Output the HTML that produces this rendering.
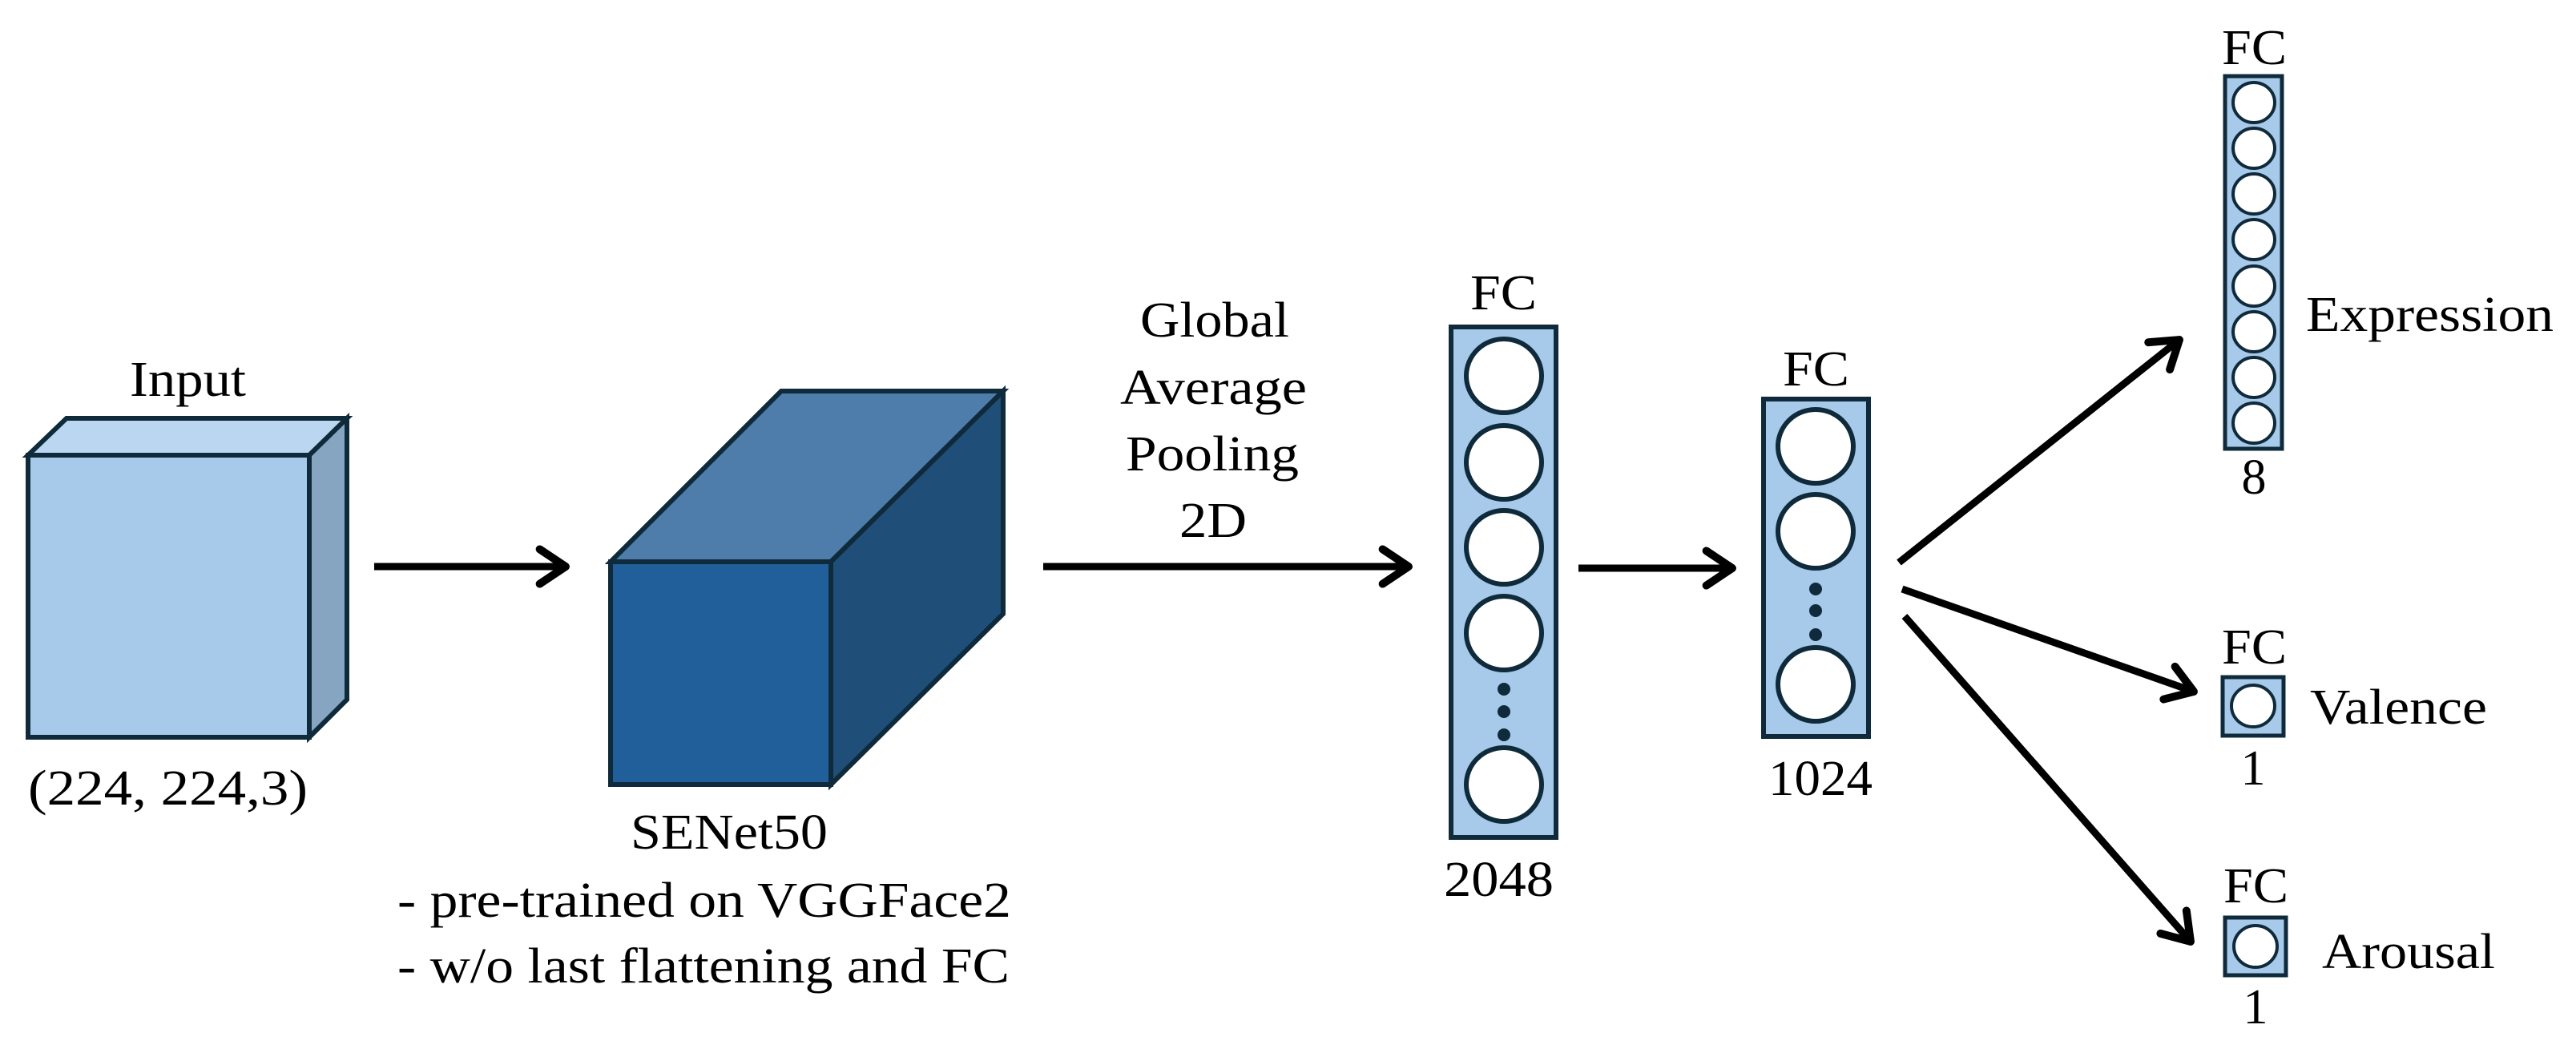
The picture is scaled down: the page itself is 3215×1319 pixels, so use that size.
<!DOCTYPE html>
<html><head><meta charset="utf-8"><style>html,body{margin:0;padding:0;background:#fff}svg{display:block}</style></head>
<body>
<svg width="3215" height="1319" viewBox="0 0 3215 1319" xmlns="http://www.w3.org/2000/svg" font-family="Liberation Serif, serif" font-size="62" fill="#000">
<defs>
<marker id="ah" markerWidth="6" markerHeight="6" refX="4.6" refY="3" orient="auto" markerUnits="strokeWidth">
<path d="M1,0.6 L4.6,3 L1,5.4" fill="none" stroke="#000" stroke-width="1.1" stroke-linecap="round" stroke-linejoin="round"/>
</marker>
</defs>
<g stroke="#0f2a3a" stroke-width="6" stroke-linejoin="miter">
<!-- Input cube -->
<polygon points="35,568 83,522 433,522 386,568" fill="#bad6f0"/>
<polygon points="386,568 433,522 433,873 386,920" fill="#86a5c0"/>
<rect x="35" y="568" width="351" height="352" fill="#a7c9ea"/>
<!-- SENet cube -->
<polygon points="762,701 975,488 1252,488 1037,701" fill="#4e7dab"/>
<polygon points="1037,701 1252,488 1252,766 1037,979" fill="#1f4e79"/>
<rect x="762" y="701" width="275" height="278" fill="#215f9a"/>
<!-- FC1 -->
<rect x="1811" y="408" width="131" height="637" fill="#a7c9ea"/>
<g fill="#fff">
<ellipse cx="1877" cy="469" rx="47" ry="46"/>
<ellipse cx="1877" cy="577" rx="47" ry="46"/>
<ellipse cx="1877" cy="683" rx="47" ry="46"/>
<ellipse cx="1877" cy="790" rx="47" ry="46"/>
<ellipse cx="1877" cy="979" rx="47" ry="46"/>
</g>
<!-- FC2 -->
<rect x="2201" y="498" width="131" height="421" fill="#a7c9ea"/>
<g fill="#fff">
<ellipse cx="2266" cy="557" rx="47" ry="46"/>
<ellipse cx="2266" cy="663" rx="47" ry="46"/>
<ellipse cx="2266" cy="854" rx="47" ry="46"/>
</g>
<!-- Expression -->
<rect x="2777" y="95" width="71" height="465" fill="#a7c9ea" stroke-width="5"/>
<g fill="#fff" stroke-width="4">
<ellipse cx="2813" cy="128" rx="26" ry="25"/>
<ellipse cx="2813" cy="185" rx="26" ry="25"/>
<ellipse cx="2813" cy="242" rx="26" ry="25"/>
<ellipse cx="2813" cy="299" rx="26" ry="25"/>
<ellipse cx="2813" cy="357" rx="26" ry="25"/>
<ellipse cx="2813" cy="414" rx="26" ry="25"/>
<ellipse cx="2813" cy="471" rx="26" ry="25"/>
<ellipse cx="2813" cy="528" rx="26" ry="25"/>
</g>
<!-- Valence -->
<rect x="2774" y="845" width="76" height="73" fill="#a7c9ea" stroke-width="5"/>
<ellipse cx="2812" cy="881" rx="27" ry="26" fill="#fff" stroke-width="4"/>
<!-- Arousal -->
<rect x="2777" y="1145" width="76" height="72" fill="#a7c9ea" stroke-width="5"/>
<ellipse cx="2815" cy="1181" rx="27" ry="26" fill="#fff" stroke-width="4"/>
</g>
<g fill="#0f2a3a">
<circle cx="1877" cy="860" r="8"/><circle cx="1877" cy="888" r="8"/><circle cx="1877" cy="917" r="8"/>
<circle cx="2266" cy="735" r="8"/><circle cx="2266" cy="762" r="8"/><circle cx="2266" cy="792" r="8"/>
</g>
<!-- arrows -->
<g stroke="#000" stroke-width="9" fill="none" marker-end="url(#ah)">
<line x1="467" y1="707" x2="706" y2="707"/>
<line x1="1302" y1="707" x2="1758" y2="707"/>
<line x1="1970" y1="709" x2="2162" y2="709"/>
<line x1="2370" y1="702" x2="2720" y2="424"/>
<line x1="2374" y1="735" x2="2738" y2="863"/>
<line x1="2377" y1="769" x2="2734" y2="1175"/>
</g>
<!-- labels -->
<text x="162" y="494" textLength="145" lengthAdjust="spacingAndGlyphs">Input</text>
<text x="35" y="1004" textLength="349" lengthAdjust="spacingAndGlyphs">(224, 224,3)</text>
<text x="787" y="1059" textLength="246" lengthAdjust="spacingAndGlyphs">SENet50</text>
<text x="496" y="1144" textLength="766" lengthAdjust="spacingAndGlyphs">- pre-trained on VGGFace2</text>
<text x="496" y="1226" textLength="764" lengthAdjust="spacingAndGlyphs">- w/o last flattening and FC</text>
<text x="1423" y="420" textLength="186" lengthAdjust="spacingAndGlyphs">Global</text>
<text x="1398" y="504" textLength="233" lengthAdjust="spacingAndGlyphs">Average</text>
<text x="1405" y="587" textLength="216" lengthAdjust="spacingAndGlyphs">Pooling</text>
<text x="1472" y="670" textLength="84" lengthAdjust="spacingAndGlyphs">2D</text>
<text x="1835" y="386" textLength="83" lengthAdjust="spacingAndGlyphs">FC</text>
<text x="1802" y="1118" textLength="137" lengthAdjust="spacingAndGlyphs">2048</text>
<text x="2225" y="481" textLength="83" lengthAdjust="spacingAndGlyphs">FC</text>
<text x="2207" y="992" textLength="130" lengthAdjust="spacingAndGlyphs">1024</text>
<text x="2773" y="80" textLength="81" lengthAdjust="spacingAndGlyphs">FC</text>
<text x="2813" y="616" text-anchor="middle">8</text>
<text x="2878" y="413" textLength="309" lengthAdjust="spacingAndGlyphs">Expression</text>
<text x="2773" y="828" textLength="81" lengthAdjust="spacingAndGlyphs">FC</text>
<text x="2812" y="979" text-anchor="middle">1</text>
<text x="2883" y="903" textLength="221" lengthAdjust="spacingAndGlyphs">Valence</text>
<text x="2775" y="1126" textLength="81" lengthAdjust="spacingAndGlyphs">FC</text>
<text x="2815" y="1277" text-anchor="middle">1</text>
<text x="2898" y="1208" textLength="216" lengthAdjust="spacingAndGlyphs">Arousal</text>
</svg>
</body></html>
